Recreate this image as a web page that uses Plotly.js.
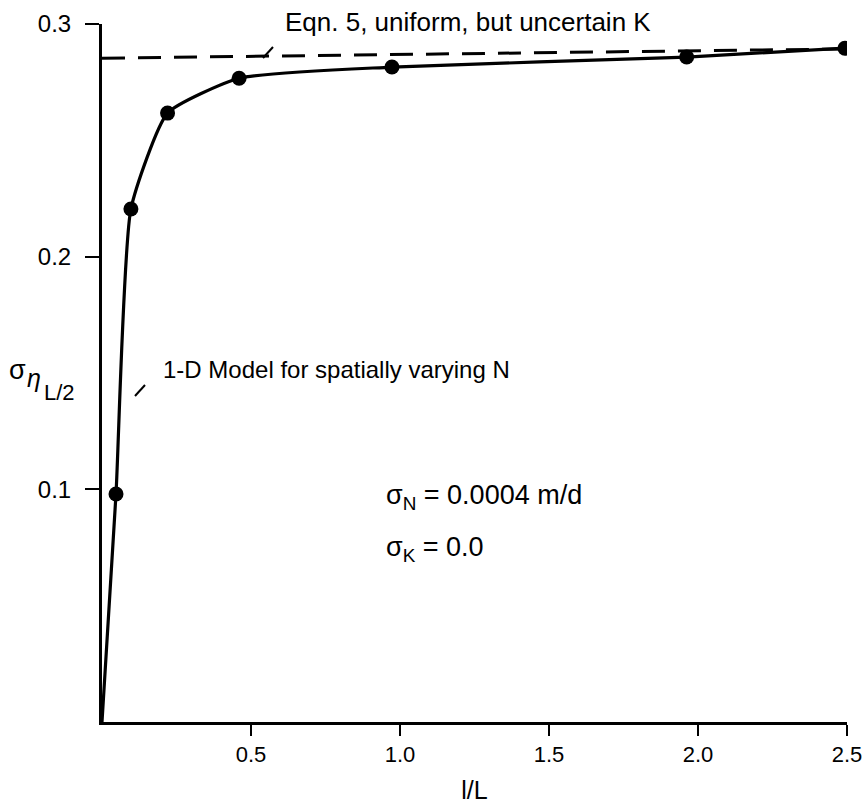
<!DOCTYPE html>
<html>
<head>
<meta charset="utf-8">
<script src="https://cdn.plot.ly/plotly-3.0.1.min.js"></script>
<style>html,body{margin:0;padding:0;background:#fff;}#chart{width:868px;height:804px;}</style>
</head>
<body>
<div id="chart"></div>
<script>
// Data
const modelX = [0.047, 0.097, 0.220, 0.460, 0.973, 1.962, 2.493];
const modelY = [0.098, 0.2205, 0.2617, 0.2767, 0.2815, 0.2858, 0.2896];
const originX = [0];
const originY = [0];
const eqnX = [0.0, 2.5];
const eqnY = [0.2853, 0.2893];
const xTicks = [0.5, 1.0, 1.5, 2.0, 2.5];
const xTickText = ['0.5', '1.0', '1.5', '2.0', '2.5'];
const yTicks = [0.1, 0.2, 0.3];
const yTickText = ['0.1', '0.2', '0.3'];

const L = 102, R = 21, T = 24, B = 82;
const W = 868 - L - R, H = 804 - T - B;
const px = x => (x - L) / W;
const py = y => (804 - B - y) / H;

const font = 'Liberation Sans, Arial, sans-serif';

const traces = [
  {
    x: eqnX, y: eqnY, mode: 'lines', type: 'scatter',
    line: {color: '#000', width: 3, dash: '23px,13px'},
    hoverinfo: 'skip', showlegend: false
  },
  {
    x: originX.concat(modelX), y: originY.concat(modelY), mode: 'lines', type: 'scatter',
    line: {color: '#000', width: 3.2, shape: 'spline', smoothing: 0.5},
    hoverinfo: 'skip', showlegend: false
  },
  {
    x: modelX, y: modelY, mode: 'markers', type: 'scatter',
    marker: {color: '#000', size: 15},
    showlegend: false
  }
];

const layout = {
  width: 868, height: 804,
  margin: {l: L, r: R, t: T, b: B},
  paper_bgcolor: '#fff', plot_bgcolor: '#fff',
  showlegend: false,
  font: {family: font, color: '#000'},
  xaxis: {
    range: [0, 2.5], showgrid: false, zeroline: false,
    showline: true, linecolor: '#000', linewidth: 3,
    ticks: 'outside', ticklen: 11, tickwidth: 2, tickcolor: '#000',
    tickvals: xTicks, ticktext: xTickText,
    tickfont: {family: font, size: 22, color: '#000'},
    title: {text: 'l/L', font: {family: font, size: 25, color: '#000'}, standoff: 24}
  },
  yaxis: {
    range: [0, 0.3], showgrid: false, zeroline: false,
    showline: true, linecolor: '#000', linewidth: 3,
    ticks: 'outside', ticklen: 14, tickwidth: 2, tickcolor: '#000',
    tickvals: yTicks, ticktext: yTickText, ticklabelstandoff: 9,
    tickfont: {family: font, size: 24, color: '#000'}
  },
  annotations: [
    {xref: 'paper', yref: 'paper', x: px(283), y: py(22), xanchor: 'left', yanchor: 'middle',
     text: 'Eqn. 5, uniform, but uncertain K', showarrow: false, font: {size: 26}},
    {xref: 'paper', yref: 'paper', x: px(161), y: py(369), xanchor: 'left', yanchor: 'middle',
     text: '1-D Model for spatially varying N', showarrow: false, font: {size: 24}},
    {xref: 'paper', yref: 'paper', x: px(384), y: py(497), xanchor: 'left', yanchor: 'middle',
     text: 'σ<sub>N</sub> = 0.0004 m/d', showarrow: false, font: {size: 27}},
    {xref: 'paper', yref: 'paper', x: px(384), y: py(549), xanchor: 'left', yanchor: 'middle',
     text: 'σ<sub>K</sub> = 0.0', showarrow: false, font: {size: 27}},
    {xref: 'paper', yref: 'paper', x: px(7), y: py(370), xanchor: 'left', yanchor: 'middle',
     text: 'σ', showarrow: false, font: {size: 27}},
    {xref: 'paper', yref: 'paper', x: px(25), y: py(378), xanchor: 'left', yanchor: 'middle',
     text: '<i>η</i>', showarrow: false, font: {size: 25}},
    {xref: 'paper', yref: 'paper', x: px(42), y: py(392), xanchor: 'left', yanchor: 'middle',
     text: 'L/2', showarrow: false, font: {size: 22}}
  ],
  shapes: [
    {type: 'line', xref: 'paper', yref: 'paper', x0: px(263), y0: py(58), x1: px(273), y1: py(47),
     line: {color: '#000', width: 2}},
    {type: 'line', xref: 'paper', yref: 'paper', x0: px(135), y0: py(396), x1: px(145), y1: py(385),
     line: {color: '#000', width: 2}}
  ]
};

Plotly.newPlot('chart', traces, layout, {staticPlot: true, displayModeBar: false});
</script>
</body>
</html>
